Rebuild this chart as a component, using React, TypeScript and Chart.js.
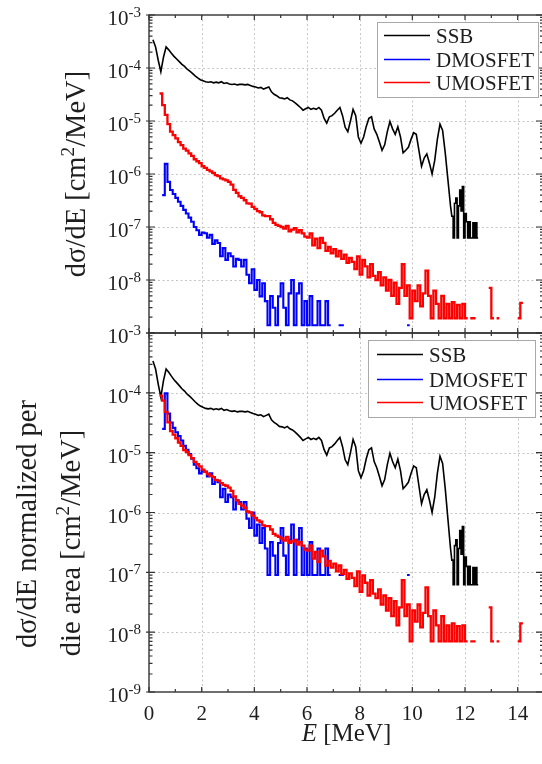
import React, { useEffect, useRef } from "react";
import { Chart, registerables } from "chart.js";

Chart.register(...registerables);

const FONT = '"Liberation Serif", "DejaVu Serif", serif';

// ---- axes ----
const X_MIN = 0;
const X_MAX = 15;
const X_MAJOR = [0, 2, 4, 6, 8, 10, 12, 14];
const X_LABELS = ["0", "2", "4", "6", "8", "10", "12", "14"];
const Y_MIN = 1e-9;
const Y_MAX = 1e-3;
const Y_DECADE_EXPONENTS = [-9, -8, -7, -6, -5, -4, -3];

const LEGEND_LABELS = ["SSB", "DMOSFET", "UMOSFET"];
const LEGEND_COLORS = ["#000000", "#0000ff", "#ff0000"];

// ---- data (energy bins in MeV, dσ/dE in cm²/MeV) ----
const BIN_WIDTH = 0.1;

const SSB_START = 0.1;
const ssbValues = [
  3.4e-4, 2.5e-4, 1.4e-4, 8.5e-5, 1.6e-4, 2.5e-4, 2.2e-4, 1.9e-4, 1.66e-4, 1.48e-4,
  1.32e-4, 1.17e-4, 1.07e-4, 9.5e-5, 8.7e-5, 7.9e-5, 7.1e-5, 6.5e-5, 6.0e-5, 5.75e-5,
  5.5e-5, 5.4e-5, 5.5e-5, 5.25e-5, 5.4e-5, 5.25e-5, 5.5e-5, 5.1e-5, 5.25e-5, 5.0e-5,
  4.9e-5, 5.0e-5, 4.8e-5, 4.9e-5, 4.9e-5, 4.8e-5, 4.9e-5, 4.7e-5, 4.5e-5, 4.4e-5,
  4.2e-5, 4.3e-5, 4.0e-5, 4.2e-5, 4.4e-5, 3.55e-5, 3.2e-5, 3.0e-5, 2.75e-5, 2.7e-5,
  2.6e-5, 2.75e-5, 2.5e-5, 2.4e-5, 2.2e-5, 2.0e-5, 1.8e-5, 1.6e-5, 1.7e-5, 1.8e-5,
  1.66e-5, 1.74e-5, 1.66e-5, 1.8e-5, 1.6e-5, 1.12e-5, 9.1e-6, 1.2e-5, 1.26e-5, 1.4e-5,
  1.6e-5, 1.8e-5, 1.26e-5, 7.6e-6, 6.3e-6, 1.0e-5, 1.66e-5, 1.26e-5, 5.0e-6, 3.8e-6,
  5.0e-6, 7.9e-6, 1.12e-5, 1.2e-5, 7.1e-6, 5.6e-6, 4.0e-6, 2.8e-6, 3.55e-6, 6.3e-6,
  9.8e-6, 7.1e-6, 5.6e-6, 7.8e-6, 5.0e-6, 2.5e-6, 2.8e-6, 3.2e-6, 4.5e-6, 6.0e-6,
  5.6e-6, 2.8e-6, 1.4e-6, 2.0e-6, 2.4e-6, 1.6e-6, 1.0e-6, 1.8e-6, 4.5e-6, 8.7e-6,
  6.6e-6, 2.5e-6, 7.9e-7, 2.5e-7,
];
const SSB_TAIL_START = 11.5;
const SSB_TAIL_WIDTH = 0.05;
const ssbTailValues = [
  1.6e-7, 6.2e-8, 2.8e-7, 3.5e-7, 6.2e-8, 2.5e-7, 5.0e-7, 2.0e-7, 5.8e-7, 6.2e-8,
  1.8e-7, 1.26e-7, 6.2e-8, 1.26e-7, 6.2e-8, 6.2e-8, 1.2e-7, 6.2e-8, 1.2e-7, 6.2e-8,
];

const DMOS_START = 0.5;
const dmosValues: (number | null)[] = [
  4.0e-7, 1.55e-6, 7.1e-7, 5.0e-7, 4.2e-7, 3.55e-7, 3.0e-7, 2.5e-7, 2.1e-7, 1.8e-7,
  1.5e-7, 1.26e-7, 1.0e-7, 8.7e-8, 7.1e-8, 7.9e-8, 7.6e-8, 6.3e-8, 7.1e-8, 4.8e-8,
  5.6e-8, 5.0e-8, 2.8e-8, 4.0e-8, 2.4e-8, 3.2e-8, 2.8e-8, 1.8e-8, 2.5e-8, 2.4e-8,
  1.8e-8, 2.4e-8, 1.26e-8, 8.7e-9, 1.6e-8, 6.5e-9, 1.0e-8, 4.9e-9, 8.7e-9, 4.0e-9,
  1.4e-9, 5.0e-9, 3.0e-9, 1.4e-9, 4.9e-9, 8.7e-9, 3.0e-9, 1.4e-9, 5.6e-9, 1.0e-8,
  1.4e-9, 5.6e-9, 8.7e-9, 1.4e-9, 4.0e-9, 1.4e-9, 5.0e-9, 1.4e-9, 1.4e-9, 4.0e-9,
  1.4e-9, 1.4e-9, 4.0e-9, 1.4e-9, null, null, null, 1.4e-9, 1.4e-9, null,
  null, null, null, null, null, null, null, null, null, null,
  null, null, null, null, null, null, null, null, null, null,
  null, null, null, 1.4e-9,
];
const dmosPerAreaValues: (number | null)[] = [
  2.5e-5, 9.8e-5, 4.5e-5, 3.2e-5, 2.6e-5, 2.2e-5, 1.9e-5, 1.6e-5, 1.3e-5, 1.12e-5,
  9.5e-6, 7.9e-6, 6.3e-6, 5.5e-6, 4.5e-6, 5.0e-6, 4.8e-6, 4.0e-6, 4.5e-6, 3.0e-6,
  3.5e-6, 3.2e-6, 1.8e-6, 2.5e-6, 1.5e-6, 2.0e-6, 1.8e-6, 1.12e-6, 1.6e-6, 1.5e-6,
  1.12e-6, 1.5e-6, 7.9e-7, 5.5e-7, 1.0e-6, 4.1e-7, 6.3e-7, 3.1e-7, 5.5e-7, 2.5e-7,
  9.0e-8, 3.2e-7, 1.9e-7, 9.0e-8, 3.1e-7, 5.5e-7, 1.9e-7, 9.0e-8, 3.5e-7, 6.3e-7,
  9.0e-8, 3.5e-7, 5.5e-7, 9.0e-8, 2.5e-7, 9.0e-8, 3.2e-7, 9.0e-8, 9.0e-8, 2.5e-7,
  9.0e-8, 9.0e-8, 2.5e-7, 9.0e-8, null, null, null, 9.0e-8, 9.0e-8, null,
  null, null, null, null, null, null, null, null, null, null,
  null, null, null, null, null, null, null, null, null, null,
  null, null, null, 9.0e-8,
];

const UMOS_START = 0.4;
const umosValues: (number | null)[] = [
  3.3e-5, 2.0e-5, 1.3e-5, 8.7e-6, 6.3e-6, 5.4e-6, 4.7e-6, 4.0e-6, 3.5e-6, 3.0e-6,
  2.75e-6, 2.45e-6, 2.2e-6, 1.9e-6, 1.74e-6, 1.6e-6, 1.4e-6, 1.3e-6, 1.2e-6, 1.12e-6,
  1.05e-6, 9.5e-7, 9.1e-7, 8.3e-7, 7.9e-7, 7.6e-7, 7.1e-7, 6.3e-7, 5.0e-7, 4.4e-7,
  3.8e-7, 3.55e-7, 3.2e-7, 2.8e-7, 2.75e-7, 2.4e-7, 2.2e-7, 2.0e-7, 1.9e-7, 1.66e-7,
  1.6e-7, 1.6e-7, 1.4e-7, 1.2e-7, 1.1e-7, 1.05e-7, 1.0e-7, 9.3e-8, 1.05e-7, 8.3e-8,
  8.9e-8, 9.5e-8, 7.9e-8, 8.7e-8, 7.6e-8, 6.6e-8, 6.3e-8, 7.6e-8, 4.5e-8, 6.0e-8,
  4.0e-8, 6.2e-8, 5.0e-8, 3.55e-8, 4.2e-8, 3.2e-8, 3.8e-8, 2.8e-8, 3.55e-8, 2.5e-8,
  3.0e-8, 2.1e-8, 2.6e-8, 2.2e-8, 1.6e-8, 2.8e-8, 1.26e-8, 2.4e-8, 1.8e-8, 1.12e-8,
  2.0e-8, 1.2e-8, 1.0e-8, 1.4e-8, 7.9e-9, 1.12e-8, 6.3e-9, 1.0e-8, 5.0e-9, 8.9e-9,
  3.55e-9, 7.1e-9, 2.0e-8, 5.0e-9, 7.9e-9, 1.9e-9, 6.3e-9, 4.0e-9, 7.9e-9, 3.2e-9,
  5.6e-9, 1.5e-8, 5.0e-9, 1.9e-9, 6.3e-9, 3.55e-9, 1.9e-9, 5.0e-9, 1.9e-9, 3.55e-9,
  1.9e-9, 3.8e-9, 1.9e-9, 3.4e-9, 1.9e-9, 3.55e-9, 1.9e-9,
  null, 1.9e-9, 1.9e-9, null, null, null, null, null, 7.1e-9, 1.9e-9,
  null, 1.9e-9, null, null, null, null, null, null, null, 1.9e-9, 3.7e-9,
];
const umosPerAreaValues: (number | null)[] = [
  9.0e-5, 7.4e-5, 4.8e-5, 3.2e-5, 2.3e-5, 2.0e-5, 1.74e-5, 1.48e-5, 1.3e-5, 1.1e-5,
  1.02e-5, 9.1e-6, 8.1e-6, 7.0e-6, 6.4e-6, 5.9e-6, 5.2e-6, 4.8e-6, 4.4e-6, 4.1e-6,
  3.9e-6, 3.5e-6, 3.4e-6, 3.1e-6, 2.9e-6, 2.8e-6, 2.6e-6, 2.3e-6, 1.85e-6, 1.6e-6,
  1.4e-6, 1.3e-6, 1.2e-6, 1.04e-6, 1.0e-6, 8.9e-7, 8.1e-7, 7.4e-7, 7.0e-7, 6.1e-7,
  5.9e-7, 5.9e-7, 5.2e-7, 4.4e-7, 4.1e-7, 3.9e-7, 3.7e-7, 3.4e-7, 3.9e-7, 3.1e-7,
  3.3e-7, 3.5e-7, 2.9e-7, 3.2e-7, 2.8e-7, 2.4e-7, 2.3e-7, 2.8e-7, 1.7e-7, 2.2e-7,
  1.5e-7, 2.3e-7, 1.85e-7, 1.3e-7, 1.55e-7, 1.2e-7, 1.4e-7, 1.04e-7, 1.3e-7, 9.3e-8,
  1.1e-7, 7.8e-8, 9.6e-8, 8.1e-8, 5.9e-8, 1.04e-7, 4.7e-8, 8.9e-8, 6.7e-8, 4.1e-8,
  7.4e-8, 4.4e-8, 3.7e-8, 5.2e-8, 2.9e-8, 4.1e-8, 2.3e-8, 3.7e-8, 1.85e-8, 3.3e-8,
  1.3e-8, 2.6e-8, 7.4e-8, 1.85e-8, 2.9e-8, 7.0e-9, 2.3e-8, 1.5e-8, 2.9e-8, 1.2e-8,
  2.1e-8, 5.6e-8, 1.85e-8, 7.0e-9, 2.3e-8, 1.3e-8, 7.0e-9, 1.85e-8, 7.0e-9, 1.3e-8,
  7.0e-9, 1.4e-8, 7.0e-9, 1.26e-8, 7.0e-9, 1.3e-8, 7.0e-9,
  null, 7.0e-9, 7.0e-9, null, null, null, null, null, 2.6e-8, 7.0e-9,
  null, 7.0e-9, null, null, null, null, null, null, null, 7.0e-9, 1.4e-8,
];

// ---- helpers ----
type Pt = { x: number; y: number | null };

function histogramPoints(start: number, width: number, values: (number | null)[]): Pt[] {
  const pts: Pt[] = [];
  values.forEach((v, i) => {
    const e0 = Math.round((start + i * width) * 1000) / 1000;
    const e1 = Math.round((start + (i + 1) * width) * 1000) / 1000;
    if (v == null) {
      pts.push({ x: e0, y: null });
    } else {
      pts.push({ x: e0, y: v }, { x: e1, y: v });
    }
  });
  return pts;
}

function binCenterPoints(start: number, width: number, values: (number | null)[]): Pt[] {
  return values.map((v, i) => ({ x: Math.round((start + (i + 0.5) * width) * 1000) / 1000, y: v }));
}

type TextPart = { t: string; sup?: boolean; italic?: boolean };
type TitleLine = { parts: TextPart[]; baseX: number; centerY: number };
type PanelSpec = {
  width: number;
  height: number;
  top: number;
  padTop: number;
  padBottom: number;
  padRight: number;
  axisWidth: number;
  legend: { x: number; y: number; w: number; h: number; lx0: number; lx1: number; tx: number; rows: number[] };
  titles: TitleLine[];
  showXLabels: boolean;
  skipBottomYLabel: boolean;
};

const TITLE_SIZE = 28.5;
const TOP_SPEC: PanelSpec = {
  width: 548,
  height: 345,
  top: 0,
  padTop: 15,
  padBottom: 12,
  padRight: 4,
  axisWidth: 149,
  legend: { x: 377, y: 22, w: 161, h: 75, lx0: 384, lx1: 430, tx: 436, rows: [35, 59, 82] },
  titles: [
    { parts: [{ t: "dσ/dE [cm" }, { t: "2", sup: true }, { t: "/MeV]" }], baseX: 85, centerY: 174 },
  ],
  showXLabels: false,
  skipBottomYLabel: true,
};
const BOTTOM_SPEC: PanelSpec = {
  width: 548,
  height: 444,
  top: 320,
  padTop: 13,
  padBottom: 72,
  padRight: 4,
  axisWidth: 149,
  legend: { x: 368, y: 20, w: 167, h: 77, lx0: 377, lx1: 423, tx: 429, rows: [34, 59, 82] },
  titles: [
    { parts: [{ t: "dσ/dE normalized per" }], baseX: 36, centerY: 204 },
    { parts: [{ t: "die area [cm" }, { t: "2", sup: true }, { t: "/MeV]" }], baseX: 80, centerY: 223 },
  ],
  showXLabels: true,
  skipBottomYLabel: false,
};

function fontOf(size: number, italic = false) {
  return `${italic ? "italic " : ""}${size}px ${FONT}`;
}

function drawParts(ctx: CanvasRenderingContext2D, parts: TextPart[], size: number, cx: number, baseY: number) {
  const widths = parts.map((p) => {
    ctx.font = fontOf(p.sup ? size * 0.68 : size, p.italic);
    return ctx.measureText(p.t).width;
  });
  const total = widths.reduce((a, b) => a + b, 0);
  let x = cx - total / 2;
  ctx.textAlign = "left";
  ctx.textBaseline = "alphabetic";
  parts.forEach((p, i) => {
    ctx.font = fontOf(p.sup ? size * 0.68 : size, p.italic);
    ctx.fillText(p.t, x, p.sup ? baseY - size * 0.4 : baseY);
    x += widths[i];
  });
}

function makePlugin(spec: PanelSpec) {
  return {
    id: "panelDecor",
    beforeDatasetsDraw(chart: any) {
      const ctx: CanvasRenderingContext2D = chart.ctx;
      const xs = chart.scales.x;
      const ys = chart.scales.y;
      const { left, right, top, bottom } = chart.chartArea;
      ctx.save();
      ctx.strokeStyle = "#c6c6c6";
      ctx.lineWidth = 1;
      ctx.setLineDash([2, 2.5]);
      X_MAJOR.forEach((v) => {
        if (v <= X_MIN || v >= X_MAX) return;
        const x = Math.round(xs.getPixelForValue(v)) + 0.5;
        ctx.beginPath();
        ctx.moveTo(x, top);
        ctx.lineTo(x, bottom);
        ctx.stroke();
      });
      Y_DECADE_EXPONENTS.forEach((e) => {
        const v = Math.pow(10, e);
        if (v <= Y_MIN || v >= Y_MAX) return;
        const y = Math.round(ys.getPixelForValue(v)) + 0.5;
        ctx.beginPath();
        ctx.moveTo(left, y);
        ctx.lineTo(right, y);
        ctx.stroke();
      });
      ctx.restore();
    },
    afterDatasetsDraw(chart: any) {
      const ctx: CanvasRenderingContext2D = chart.ctx;
      const xs = chart.scales.x;
      const ys = chart.scales.y;
      const { left, right, top, bottom } = chart.chartArea;
      ctx.save();
      // frame
      ctx.strokeStyle = "#333";
      ctx.lineWidth = 1.4;
      ctx.setLineDash([]);
      ctx.strokeRect(left, top, right - left, bottom - top);
      // x ticks (inward, top and bottom)
      ctx.lineWidth = 1.2;
      for (let v = X_MIN; v <= X_MAX; v += 1) {
        const x = xs.getPixelForValue(v);
        const len = v % 2 === 0 ? 5 : 3;
        ctx.beginPath();
        ctx.moveTo(x, bottom);
        ctx.lineTo(x, bottom - len);
        ctx.moveTo(x, top);
        ctx.lineTo(x, top + len);
        ctx.stroke();
      }
      // y ticks (log minor + major)
      Y_DECADE_EXPONENTS.forEach((e) => {
        for (let m = 1; m <= 9; m++) {
          const v = m * Math.pow(10, e);
          if (v > Y_MAX * 1.0001) break;
          const y = ys.getPixelForValue(v);
          const major = m === 1;
          ctx.beginPath();
          if (major) {
            ctx.moveTo(left - 3, y);
            ctx.lineTo(left + 6, y);
            ctx.moveTo(right, y);
            ctx.lineTo(right - 8, y);
          } else {
            ctx.moveTo(left, y);
            ctx.lineTo(left + 3.5, y);
            ctx.moveTo(right, y);
            ctx.lineTo(right - 4, y);
          }
          ctx.stroke();
        }
      });
      // y labels 10^n
      ctx.fillStyle = "#1e1e1e";
      Y_DECADE_EXPONENTS.forEach((e) => {
        if (spec.skipBottomYLabel && e === Y_DECADE_EXPONENTS[0]) return;
        const y = ys.getPixelForValue(Math.pow(10, e));
        const expStr = "-" + Math.abs(e);
        ctx.textAlign = "left";
        ctx.textBaseline = "alphabetic";
        ctx.font = fontOf(15);
        const we = ctx.measureText(expStr).width;
        const rightEdge = 141;
        ctx.fillText(expStr, rightEdge - we, y + 2);
        ctx.font = fontOf(21);
        const wb = ctx.measureText("10").width;
        ctx.fillText("10", rightEdge - we - wb, y + 10);
      });
      // x labels
      if (spec.showXLabels) {
        ctx.font = fontOf(21);
        ctx.textAlign = "center";
        X_MAJOR.forEach((v, i) => {
          ctx.fillText(X_LABELS[i], xs.getPixelForValue(v), bottom + 28);
        });
        drawParts(ctx, [{ t: "E", italic: true }, { t: " [MeV]" }], 25, (left + right) / 2, bottom + 49);
      }
      // rotated y titles
      spec.titles.forEach((line) => {
        ctx.save();
        ctx.translate(line.baseX, line.centerY);
        ctx.rotate(-Math.PI / 2);
        drawParts(ctx, line.parts, TITLE_SIZE, 0, 0);
        ctx.restore();
      });
      // legend
      const lg = spec.legend;
      ctx.fillStyle = "#ffffff";
      ctx.fillRect(lg.x, lg.y, lg.w, lg.h);
      ctx.strokeStyle = "#a8a8a8";
      ctx.lineWidth = 1;
      ctx.strokeRect(lg.x + 0.5, lg.y + 0.5, lg.w, lg.h);
      LEGEND_LABELS.forEach((label, i) => {
        const ry = lg.rows[i];
        ctx.strokeStyle = LEGEND_COLORS[i];
        ctx.lineWidth = 1.6;
        ctx.beginPath();
        ctx.moveTo(lg.lx0, ry + 0.5);
        ctx.lineTo(lg.lx1, ry + 0.5);
        ctx.stroke();
        ctx.fillStyle = "#1e1e1e";
        ctx.font = fontOf(21);
        ctx.textAlign = "left";
        ctx.textBaseline = "alphabetic";
        ctx.fillText(label, lg.tx, ry + 7.5);
      });
      ctx.restore();
    },
  };
}

function buildConfig(spec: PanelSpec, dmos: (number | null)[], umos: (number | null)[]): any {
  const ssbPoints = [
    ...binCenterPoints(SSB_START, BIN_WIDTH, ssbValues),
    ...histogramPoints(SSB_TAIL_START, SSB_TAIL_WIDTH, ssbTailValues),
  ];
  const common = { pointRadius: 0, tension: 0, fill: false, spanGaps: false };
  return {
    type: "line",
    data: {
      datasets: [
        { ...common, label: LEGEND_LABELS[0], data: ssbPoints, borderColor: LEGEND_COLORS[0], borderWidth: 1.6, order: 2 },
        { ...common, label: LEGEND_LABELS[1], data: histogramPoints(DMOS_START, BIN_WIDTH, dmos), borderColor: LEGEND_COLORS[1], borderWidth: 2.1, order: 1 },
        { ...common, label: LEGEND_LABELS[2], data: histogramPoints(UMOS_START, BIN_WIDTH, umos), borderColor: LEGEND_COLORS[2], borderWidth: 2.3, order: 0 },
      ],
    },
    options: {
      animation: false,
      responsive: false,
      devicePixelRatio: 1,
      events: [],
      layout: { padding: { left: 0, right: spec.padRight, top: spec.padTop, bottom: spec.padBottom } },
      plugins: { legend: { display: false }, tooltip: { enabled: false }, title: { display: false } },
      scales: {
        x: {
          type: "linear",
          min: X_MIN,
          max: X_MAX,
          ticks: { display: false },
          grid: { display: false },
          border: { display: false },
          afterFit: (s: any) => {
            s.height = 0;
          },
        },
        y: {
          type: "logarithmic",
          min: Y_MIN,
          max: Y_MAX,
          ticks: { display: false },
          grid: { display: false },
          border: { display: false },
          afterFit: (s: any) => {
            s.width = spec.axisWidth;
          },
        },
      },
    },
    plugins: [makePlugin(spec)],
  };
}

export default function App() {
  const topRef = useRef<HTMLCanvasElement>(null);
  const bottomRef = useRef<HTMLCanvasElement>(null);

  useEffect(() => {
    const c1 = new Chart(topRef.current as HTMLCanvasElement, buildConfig(TOP_SPEC, dmosValues, umosValues));
    const c2 = new Chart(bottomRef.current as HTMLCanvasElement, buildConfig(BOTTOM_SPEC, dmosPerAreaValues, umosPerAreaValues));
    return () => {
      c1.destroy();
      c2.destroy();
    };
  }, []);

  return (
    <div style={{ position: "absolute", left: 0, top: 0, width: 542, height: 764, overflow: "hidden", background: "#ffffff" }}>
      <canvas
        ref={topRef}
        width={TOP_SPEC.width}
        height={TOP_SPEC.height}
        style={{ position: "absolute", left: 0, top: TOP_SPEC.top, width: TOP_SPEC.width, height: TOP_SPEC.height }}
      />
      <canvas
        ref={bottomRef}
        width={BOTTOM_SPEC.width}
        height={BOTTOM_SPEC.height}
        style={{ position: "absolute", left: 0, top: BOTTOM_SPEC.top, width: BOTTOM_SPEC.width, height: BOTTOM_SPEC.height }}
      />
    </div>
  );
}
